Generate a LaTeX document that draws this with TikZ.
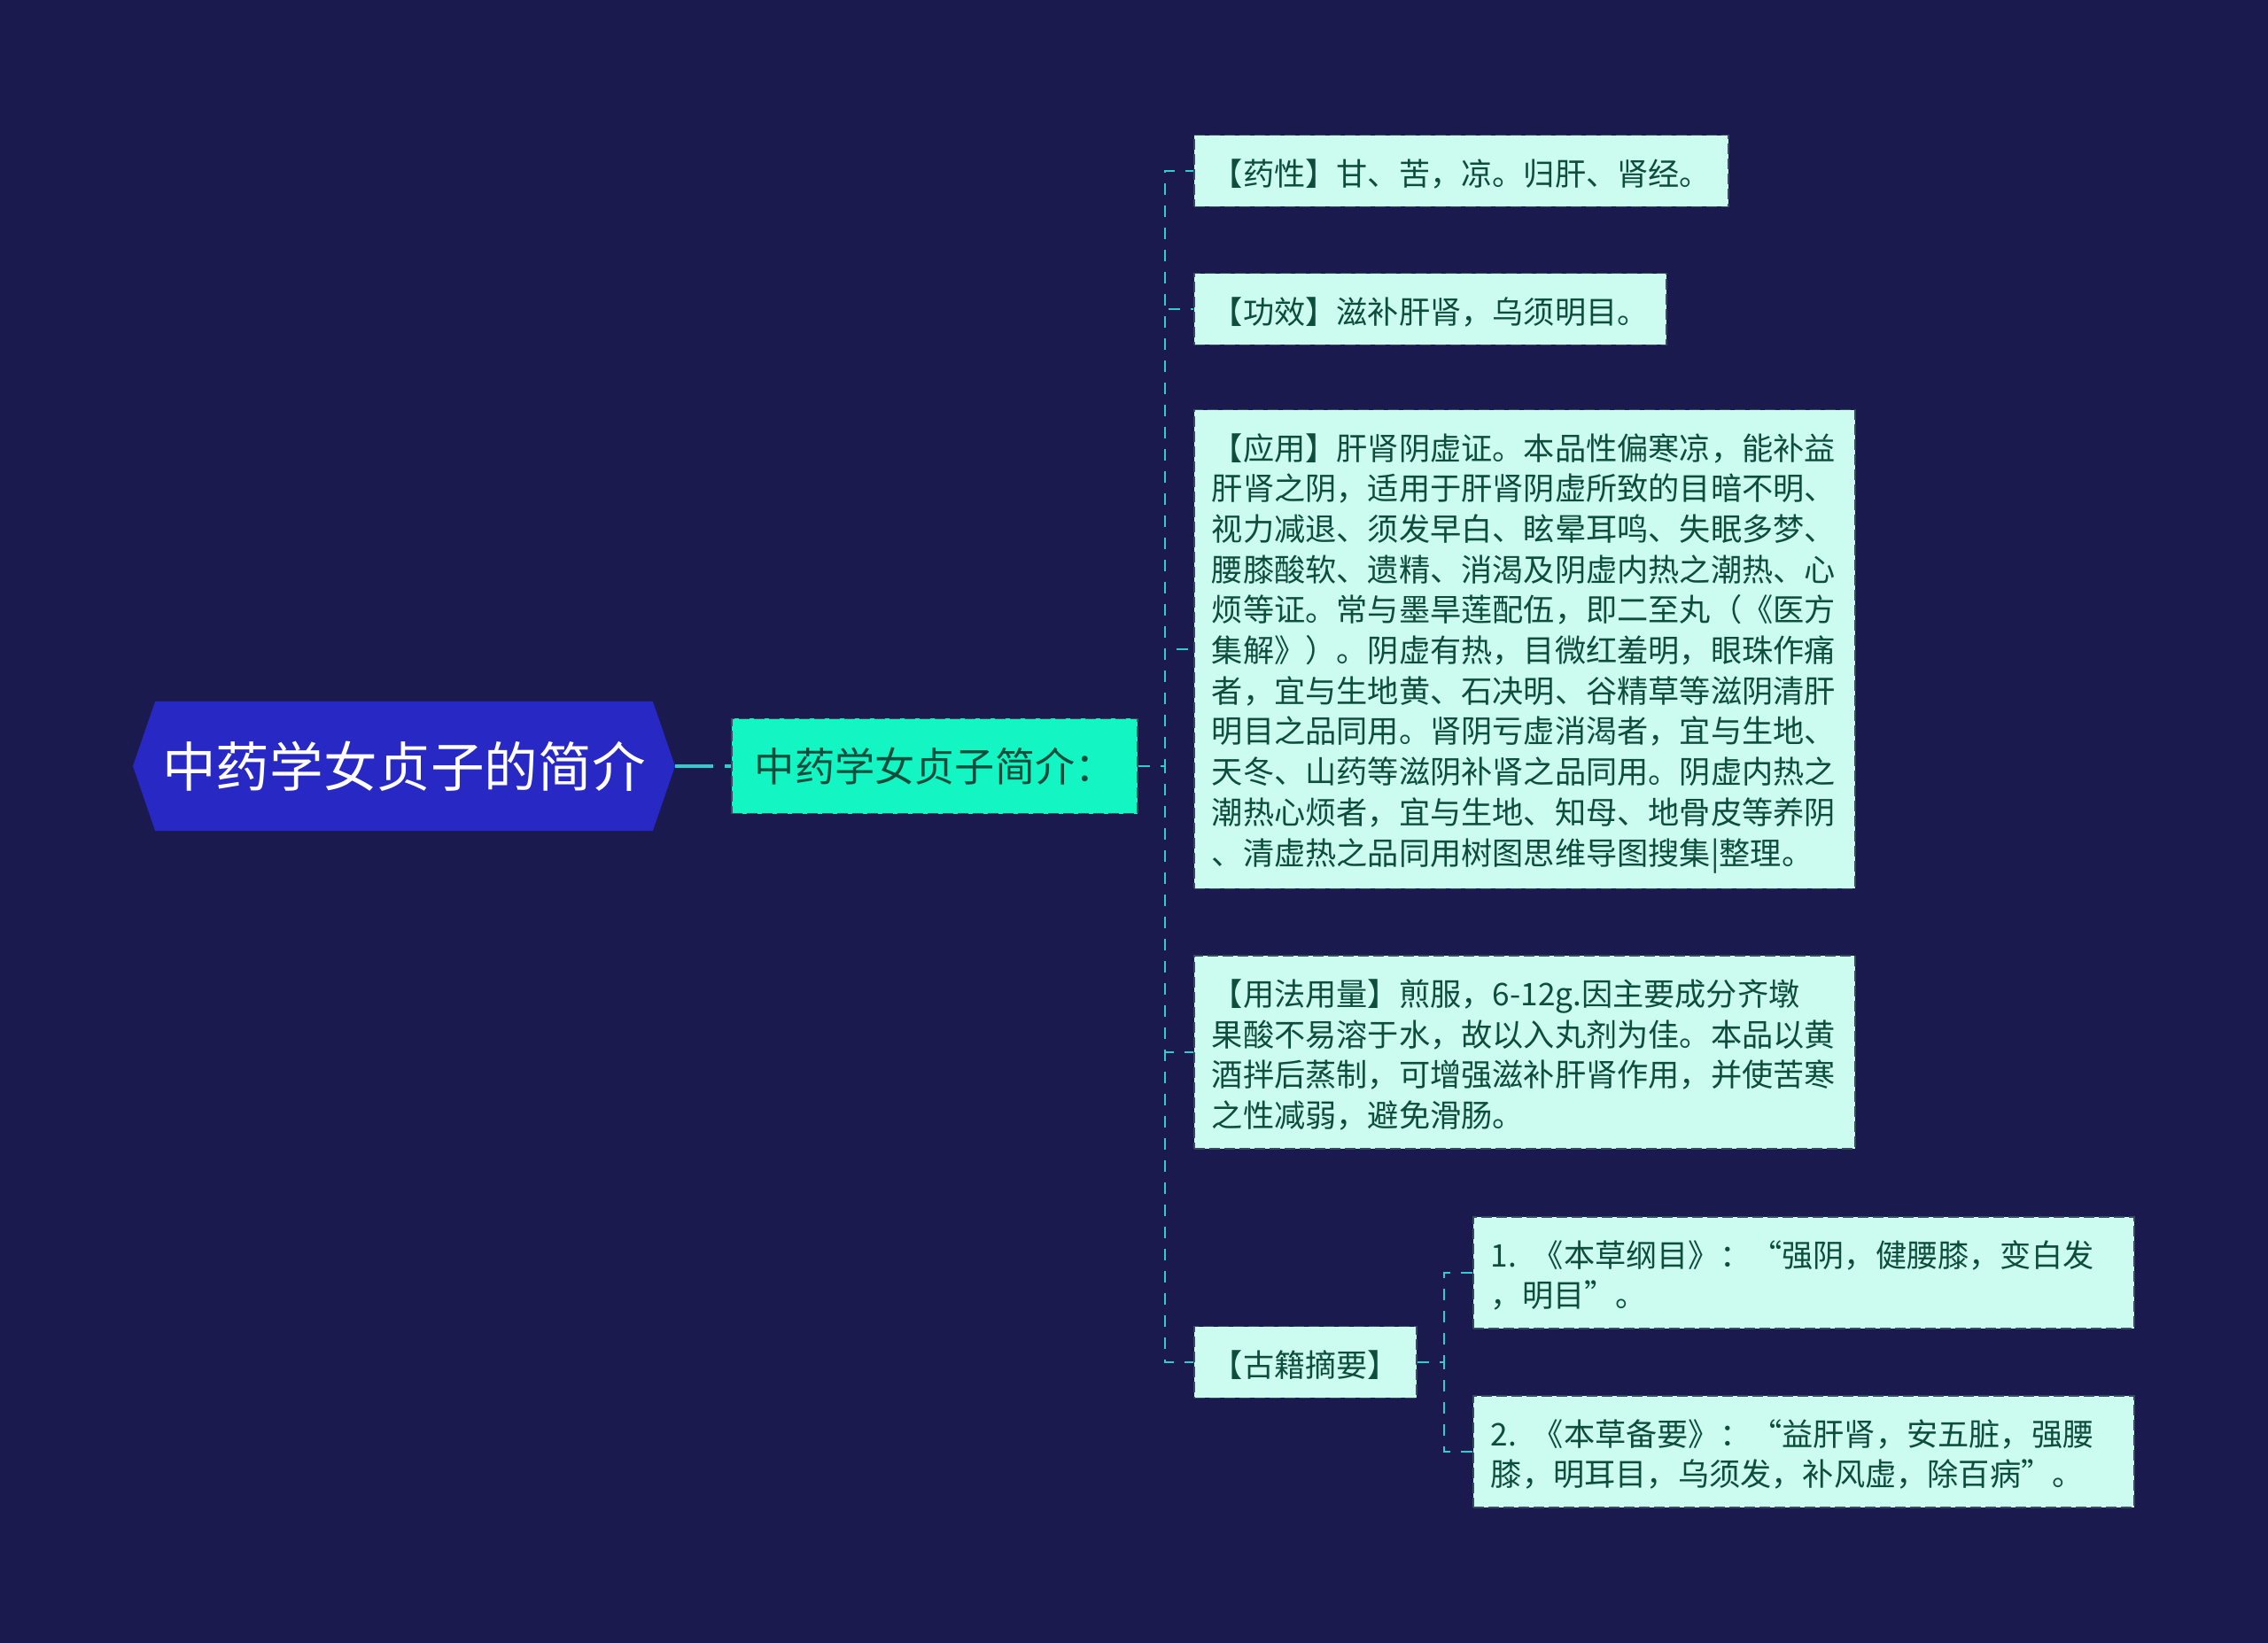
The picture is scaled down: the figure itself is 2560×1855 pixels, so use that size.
\documentclass[tikz,border=0pt]{standalone}
\usepackage{fontspec}
\setmainfont{Noto Sans CJK SC}
\usetikzlibrary{positioning, shapes.symbols, calc}

\definecolor{bgnavy}{HTML}{1B1A4F}
\definecolor{rootblue}{HTML}{2828C4}
\definecolor{subaqua}{HTML}{14F5C4}
\definecolor{leafmint}{HTML}{CCFCF0}
\definecolor{inkgreen}{HTML}{0D4D3C}
\definecolor{linkcyan}{HTML}{33CCCC}
\definecolor{edgegray}{HTML}{3A4A5E}

\newcommand{\lstrut}{\rule[-3.4pt]{0pt}{22.85pt}}

\begin{document}
\begin{tikzpicture}[
  x=0.5pt, y=-0.5pt,
  root/.style = {signal, signal to=west and east, signal pointer angle=142,
                 fill=rootblue, text=white, inner sep=0pt,
                 minimum height=73pt, minimum width=306pt,
                 font=\fontsize{30.3}{36}\selectfont},
  sub/.style  = {fill=subaqua, draw=edgegray, line width=0.9pt,
                 dash pattern=on 6pt off 2.5pt, text=inkgreen,
                 minimum width=229pt, minimum height=53.5pt,
                 font=\fontsize{22.6}{26}\selectfont},
  leaf/.style = {fill=leafmint, draw=edgegray, line width=0.9pt,
                 dash pattern=on 6pt off 2.5pt, text=inkgreen,
                 inner xsep=10pt, inner ysep=8.8pt, align=left,
                 font=\fontsize{17.6}{22.85}\selectfont,
                 execute at begin node=\lstrut, execute at end node=\lstrut},
  para/.style = {leaf, text width=353pt},
  rootlink/.style = {draw=linkcyan, line width=1.8pt, dash pattern=on 21.5pt off 6.5pt},
  link/.style     = {draw=linkcyan, line width=1.1pt, dash pattern=on 6.5pt off 6pt},
]
  \fill[bgnavy] (0,0) rectangle (2560,1855);
  \useasboundingbox (0,0) rectangle (2560,1855);

  \node[root]                 (root) at (456,865) {中药学女贞子的简介};
  \node[sub, right=31.5pt of root] (jj) {中药学女贞子简介：};
  \coordinate (trunk) at (1315,865);

  \node[leaf, anchor=west] (yx) at (1347,193) {【药性】甘、苦，凉。归肝、肾经。};
  \node[leaf, anchor=west] (gx) at (1347,349) {【功效】滋补肝肾，乌须明目。};
  \node[para, anchor=west] (yy) at (1347,733) {【应用】肝肾阴虚证。本品性偏寒凉，能补益\\
    肝肾之阴，适用于肝肾阴虚所致的目暗不明、\\
    视力减退、须发早白、眩晕耳鸣、失眠多梦、\\
    腰膝酸软、遗精、消渴及阴虚内热之潮热、心\\
    烦等证。常与墨旱莲配伍，即二至丸（《医方\\
    集解》）。阴虚有热，目微红羞明，眼珠作痛\\
    者，宜与生地黄、石决明、谷精草等滋阴清肝\\
    明目之品同用。肾阴亏虚消渴者，宜与生地、\\
    天冬、山药等滋阴补肾之品同用。阴虚内热之\\
    潮热心烦者，宜与生地、知母、地骨皮等养阴\\
    、清虚热之品同用树图思维导图搜集|整理。};
  \node[para, anchor=west] (yf) at (1347,1188) {【用法用量】煎服，6-12g.因主要成分齐墩\\
    果酸不易溶于水，故以入丸剂为佳。本品以黄\\
    酒拌后蒸制，可增强滋补肝肾作用，并使苦寒\\
    之性减弱，避免滑肠。};
  \node[leaf, anchor=west] (gj) at (1347,1538) {【古籍摘要】};
  \coordinate (gtrunk) at (1630,1538);

  \node[para, anchor=west] (gm) at (1662,1437) {1. 《本草纲目》：“强阴，健腰膝，变白发\\
    ，明目”。};
  \node[para, anchor=west] (by) at (1662,1639) {2. 《本草备要》：“益肝肾，安五脏，强腰\\
    膝，明耳目，乌须发，补风虚，除百病”。};

  % connectors
  \draw[rootlink] (root.east) -- (jj.west);
  \foreach \n in {yx, gx, yy, yf, gj}
    \draw[link] (jj.east) -- (trunk) |- (\n.west);
  \foreach \n in {gm, by}
    \draw[link] (gj.east) -- (gtrunk) |- (\n.west);
\end{tikzpicture}
\end{document}
